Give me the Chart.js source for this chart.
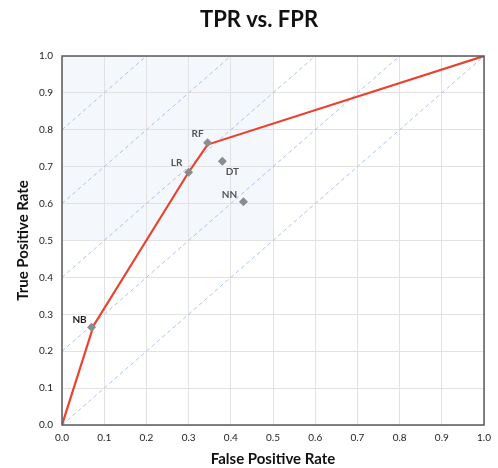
<!DOCTYPE html>
<html>
<head>
<meta charset="utf-8">
<script src="https://cdn.jsdelivr.net/npm/chart.js@4/dist/chart.umd.min.js"></script>
<style>
    html, body { margin: 0; padding: 0; background: #fff; }
    #wrap { width: 498px; height: 468px; }
</style>
</head>
<body>
<div id="wrap"><canvas id="grafico-roc"></canvas></div>
<script>
// modelos e seus pontos (FPR, TPR)
const models = ['NB', 'LR', 'RF', 'DT', 'NN'];
const modelFpr = [0.07, 0.30, 0.345, 0.38, 0.43];
const modelTpr = [0.265, 0.685, 0.765, 0.715, 0.605];

// curva vermelha
const rocFpr = [0, 0.075, 0.30, 0.345, 1.0];
const rocTpr = [0, 0.27, 0.685, 0.76, 1.0];

// linhas tracejadas y = x + c
const isoOffsets = [0.8, 0.6, 0.4, 0.2, 0.0];

// região destacada (FPR <= 0.5, TPR >= 0.5)
const shadeX = [0, 0.5];
const shadeY = [0.5, 1.0];

const chartTitle = 'TPR vs. FPR';

const FONT = 'Lato, "Open Sans", sans-serif';

/* ===== plugins ===== */

const shadePlugin = {
    id: 'shade',
    beforeDraw(chart) {
        const { ctx, scales: { x, y } } = chart;
        const x0 = x.getPixelForValue(shadeX[0]), x1 = x.getPixelForValue(shadeX[1]);
        const y0 = y.getPixelForValue(shadeY[1]), y1 = y.getPixelForValue(shadeY[0]);
        ctx.save();
        ctx.fillStyle = '#f4f8fd';
        ctx.fillRect(x0, y0, x1 - x0, y1 - y0);

        // título (um pouco à direita do centro, como no original)
        ctx.fillStyle = '#111';
        ctx.font = 'bold 22px ' + FONT;
        ctx.textAlign = 'center';
        ctx.textBaseline = 'middle';
        ctx.fillText(chartTitle, 259, 20);
        ctx.restore();
    }
};

const frameAndLabels = {
    id: 'frameAndLabels',
    afterDatasetsDraw(chart) {
        const { ctx, chartArea: a, scales: { x, y } } = chart;
        ctx.save();
        ctx.strokeStyle = '#5a5a5a';
        ctx.lineWidth = 1.5;
        ctx.strokeRect(a.left, a.top, a.right - a.left, a.bottom - a.top);

        // rótulos dos modelos
        const offs = { NB: [-12, -7], LR: [-12, -9], RF: [-10, -9], DT: [10, 11], NN: [-14, -7] };
        ctx.font = 'bold 10px ' + FONT;
        ctx.textAlign = 'center';
        ctx.textBaseline = 'middle';
        models.forEach((m, i) => {
            const px = x.getPixelForValue(modelFpr[i]);
            const py = y.getPixelForValue(modelTpr[i]);
            ctx.fillStyle = m === 'NB' ? '#1a1a1a' : '#555';
            ctx.fillText(m, px + offs[m][0], py + offs[m][1]);
        });
        ctx.restore();
    }
};

/* ===== datasets ===== */

const datasets = [
    {
        type: 'scatter',
        data: models.map((m, i) => ({ x: modelFpr[i], y: modelTpr[i] })),
        pointStyle: 'rectRot',
        pointRadius: 4.5,
        backgroundColor: '#8c8c8c',
        borderColor: '#8c8c8c',
        borderWidth: 0
    },
    {
        type: 'line',
        data: rocFpr.map((v, i) => ({ x: v, y: rocTpr[i] })),
        borderColor: '#e9432f',
        borderWidth: 2.2,
        pointRadius: 0,
        tension: 0
    }
];

isoOffsets.forEach(c => {
    datasets.push({
        type: 'line',
        data: [{ x: 0, y: c }, { x: 1 - c, y: 1 }],
        borderColor: '#abc3ec',
        borderWidth: 1,
        borderDash: [4, 3],
        pointRadius: 0
    });
});

new Chart(document.getElementById('grafico-roc'), {
    type: 'scatter',
    data: { datasets: datasets },
    plugins: [shadePlugin, frameAndLabels],
    options: {
        responsive: true,
        maintainAspectRatio: false,
        animation: false,
        layout: { padding: { left: 0, right: 12, top: 56, bottom: 0 } },
        plugins: {
            legend: { display: false },
            tooltip: { enabled: false },
            title: { display: false }
        },
        scales: {
            x: {
                type: 'linear',
                min: 0, max: 1,
                afterFit: s => { s.height = 43; },
                grid: { color: '#e2e2e2', drawTicks: false },
                border: { display: false },
                ticks: {
                    stepSize: 0.1,
                    padding: 7,
                    color: '#222',
                    font: { family: FONT, size: 10 },
                    callback: v => v.toFixed(1)
                },
                title: {
                    display: true,
                    text: 'False Positive Rate',
                    color: '#111',
                    font: { family: FONT, size: 15, weight: 'bold' },
                    padding: { top: 3, bottom: 0 }
                }
            },
            y: {
                type: 'linear',
                min: 0, max: 1,
                afterFit: s => { s.width = 62; },
                grid: { color: '#e2e2e2', drawTicks: false },
                border: { display: false },
                ticks: {
                    stepSize: 0.1,
                    padding: 9,
                    color: '#222',
                    font: { family: FONT, size: 10 },
                    callback: v => v.toFixed(1)
                },
                title: {
                    display: true,
                    text: 'True Positive Rate',
                    color: '#111',
                    font: { family: FONT, size: 15, weight: 'bold' },
                    padding: { top: 14, bottom: 0 }
                }
            }
        }
    }
});
</script>
</body>
</html>
